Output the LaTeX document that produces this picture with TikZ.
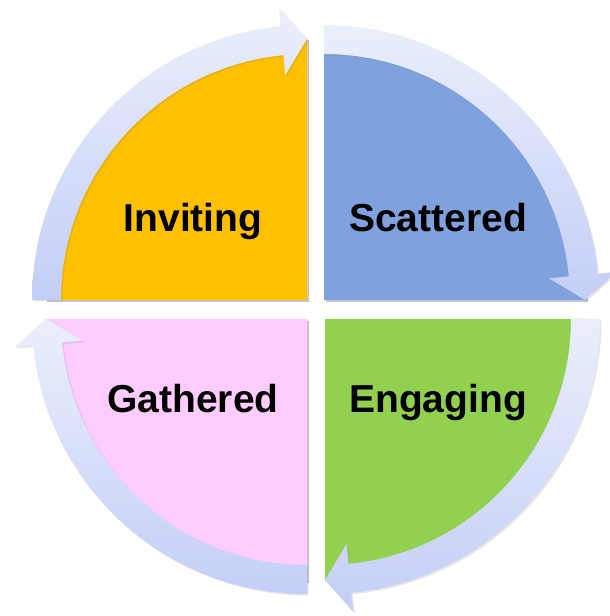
\documentclass[tikz,border=0pt]{standalone}
\usepackage{fontspec}
\setmainfont{Liberation Sans}
\usetikzlibrary{shadows}
\definecolor{invitecol}{HTML}{FFC000}
\definecolor{scattercol}{HTML}{7FA1DE}
\definecolor{engagecol}{HTML}{92D050}
\definecolor{gathercol}{HTML}{FFCCFF}
\definecolor{ringtop}{HTML}{EBEFFB}
\definecolor{ringbot}{HTML}{C4CEF7}
\begin{document}
\begin{tikzpicture}[x=1pt,y=1pt,
  quarter/.style={drop shadow={shadow xshift=2pt,shadow yshift=-2pt,opacity=0.45}},
  band/.style={top color=ringtop,bottom color=ringbot,drop shadow={shadow xshift=1.5pt,shadow yshift=-1.5pt,opacity=0.2}},
  word/.style={font=\fontsize{39}{46}\selectfont\bfseries,anchor=base}]
\useasboundingbox (0,0) rectangle (610,616);

% the four quarters
\fill[invitecol,quarter] (307,316) -- ++(180:262) arc[start angle=180,end angle=90,radius=262] -- cycle;
\fill[scattercol,quarter] (324,316) -- ++(90:262) arc[start angle=90,end angle=0,radius=262] -- cycle;
\fill[engagecol,quarter] (325,297) -- ++(0:262) arc[start angle=0,end angle=-90,radius=262] -- cycle;
\fill[gathercol,quarter] (307,297) -- ++(-90:262) arc[start angle=-90,end angle=-180,radius=262] -- cycle;

% ring arrows, clockwise
\begin{scope}[shift={(307,316)}]
\shade[band] (180:246) arc[start angle=180,end angle=95.5,radius=246] -- (95.5:226) -- (90:261)
  -- (95.5:294) -- (95.5:275) arc[start angle=95.5,end angle=180,radius=275] -- cycle;
\end{scope}
\begin{scope}[shift={(324,316)}]
\shade[band] (90:246) arc[start angle=90,end angle=5.5,radius=246] -- (5.5:226) -- (0:261)
  -- (5.5:294) -- (5.5:275) arc[start angle=5.5,end angle=90,radius=275] -- cycle;
\end{scope}
\begin{scope}[shift={(325,297)}]
\shade[band] (0:246) arc[start angle=0,end angle=-84.5,radius=246] -- (-84.5:226) -- (-90:261)
  -- (-84.5:294) -- (-84.5:275) arc[start angle=-84.5,end angle=0,radius=275] -- cycle;
\end{scope}
\begin{scope}[shift={(307,297)}]
\shade[band] (-90:246) arc[start angle=-90,end angle=-174.5,radius=246] -- (-174.5:226) -- (-180:261)
  -- (-174.5:294) -- (-174.5:275) arc[start angle=-174.5,end angle=-90,radius=275] -- cycle;
\end{scope}

\node[word] (inviting) at (193,384) {Inviting};
\node[word] (scattered) at (438,384) {Scattered};
\node[word] (gathered) at (193,203) {Gathered};
\node[word] (engaging) at (438,203) {Engaging};

\end{tikzpicture}
\end{document}
